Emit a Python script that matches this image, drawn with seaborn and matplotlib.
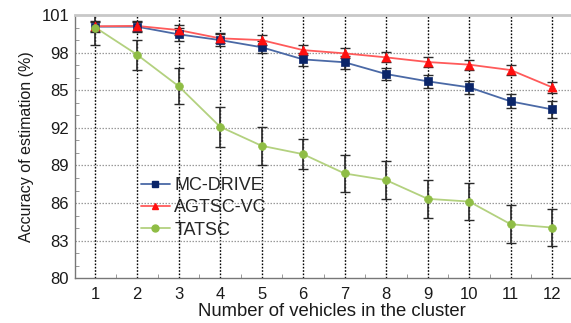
import numpy as np
import pandas as pd
import seaborn as sns
import matplotlib
matplotlib.use("Agg")
import matplotlib.pyplot as plt
from matplotlib.lines import Line2D
from matplotlib.ticker import MultipleLocator

vehicles = [1, 2, 3, 4, 5, 6, 7, 8, 9, 10, 11, 12]
mc_drive = [100.07, 100.07, 99.46, 99.0, 98.43, 97.46, 97.23, 96.29, 95.71, 95.23, 94.11, 93.47]
agtsc_vc = [100.1, 100.13, 99.8, 99.14, 99.0, 98.2, 97.94, 97.62, 97.25, 97.04, 96.61, 95.23]
tatsc = [100.0, 97.84, 95.33, 92.09, 90.57, 89.9, 88.36, 87.83, 86.34, 86.12, 84.31, 84.05]
mc_err = [0.4, 0.4, 0.5, 0.5, 0.5, 0.5, 0.5, 0.5, 0.5, 0.5, 0.55, 0.65]
ag_err = [0.4, 0.4, 0.4, 0.4, 0.4, 0.4, 0.4, 0.4, 0.4, 0.4, 0.4, 0.45]
ta_err = [1.4, 1.2, 1.45, 1.6, 1.5, 1.2, 1.5, 1.5, 1.5, 1.5, 1.5, 1.5]
names = ["MC-DRIVE", "AGTSC-VC", "TATSC"]
ytick_vals = [80, 83, 86, 89, 92, 95, 98, 101]
ytick_labels = ["80", "83", "86", "89", "92", "85", "98", "101"]

sns.set_theme(style="white")
plt.rcParams["font.family"] = ["Liberation Sans", "DejaVu Sans"]

df = pd.DataFrame({
    "x": vehicles * 3,
    "y": mc_drive + agtsc_vc + tatsc,
    "err": mc_err + ag_err + ta_err,
    "method": [names[0]] * 12 + [names[1]] * 12 + [names[2]] * 12,
})

line_colors = {"MC-DRIVE": "#4a69a6", "AGTSC-VC": "#ff5a5a", "TATSC": "#b3d17f"}
marker_colors = {"MC-DRIVE": "#0a2569", "AGTSC-VC": "#ff0f0f", "TATSC": "#8fbd45"}
markers = {"MC-DRIVE": "s", "AGTSC-VC": "^", "TATSC": "o"}
msizes = {"MC-DRIVE": 5.8, "AGTSC-VC": 6.5, "TATSC": 5.6}

fig = plt.figure(figsize=(5.71, 3.23), dpi=100)
ax = fig.add_axes([74.7 / 571, (323 - 278.3) / 323, (573 - 74.7) / 571, (278.3 - 15) / 323])

# vertical dotted black lines
for xv in vehicles:
    ax.axvline(xv, color="black", ls=(0, (1.2, 1.2)), lw=1.0, zorder=1)
# horizontal dotted grey grid
for yv in ytick_vals[1:-1]:
    ax.axhline(yv, color="#9a9a9a", ls=(0, (1.2, 1.2)), lw=0.9, zorder=1)

# error bars
for m in names:
    sub = df[df.method == m]
    ax.errorbar(sub.x, sub.y, yerr=sub.err, fmt="none", ecolor="#2a2a2a",
                elinewidth=1.2, capsize=3.5, capthick=1.0, zorder=2)

sns.lineplot(data=df, x="x", y="y", hue="method", palette=line_colors,
             lw=1.3, ax=ax, legend=False, zorder=3)
for m in names:
    sub = df[df.method == m]
    sns.scatterplot(x=sub.x, y=sub.y, marker=markers[m], color=marker_colors[m],
                    s=msizes[m] ** 2, edgecolor=marker_colors[m], linewidth=0.5,
                    ax=ax, legend=False, zorder=4)

ax.set_xlim(0.5, 12.5)
ax.set_ylim(80, 101)
ax.set_xticks(vehicles)
ax.set_xticklabels([str(v) for v in vehicles])
ax.xaxis.set_minor_locator(MultipleLocator(0.5))
ax.set_yticks(ytick_vals)
ax.set_yticklabels(ytick_labels)
ax.yaxis.set_minor_locator(MultipleLocator(1))
ax.tick_params(axis="both", which="major", direction="in", length=0, labelsize=12,
               pad=6, colors="#1a1a1a")
ax.tick_params(axis="both", which="minor", direction="in", length=3, width=0.6,
               color="#888888", left=True, bottom=True)
ax.tick_params(axis="y", which="major", pad=4)
ax.set_xlabel("Number of vehicles in the cluster", fontsize=13.3, labelpad=0, color="#1a1a1a")
ax.xaxis.set_label_coords(0.516, -0.095)
ax.set_ylabel("Accuracy of estimation (%)", fontsize=11.5, labelpad=5, color="#1a1a1a")

for s in ["left", "bottom"]:
    ax.spines[s].set_color("#777777")
    ax.spines[s].set_linewidth(1.0)
ax.spines["top"].set_color("#c8c8c8")
ax.spines["top"].set_linewidth(2.0)
ax.spines["right"].set_visible(False)

handles = [Line2D([0], [0], color=line_colors[m], lw=1.3, marker=markers[m],
                  markersize=5, markerfacecolor=marker_colors[m],
                  markeredgecolor=marker_colors[m]) for m in names]
ax.legend(handles, names, loc="upper left", bbox_to_anchor=(0.133, 0.385),
          frameon=False, fontsize=13, borderpad=0, borderaxespad=0,
          handlelength=1.6, handletextpad=0.25, labelspacing=0.3)

fig.savefig("out.png", dpi=100)
